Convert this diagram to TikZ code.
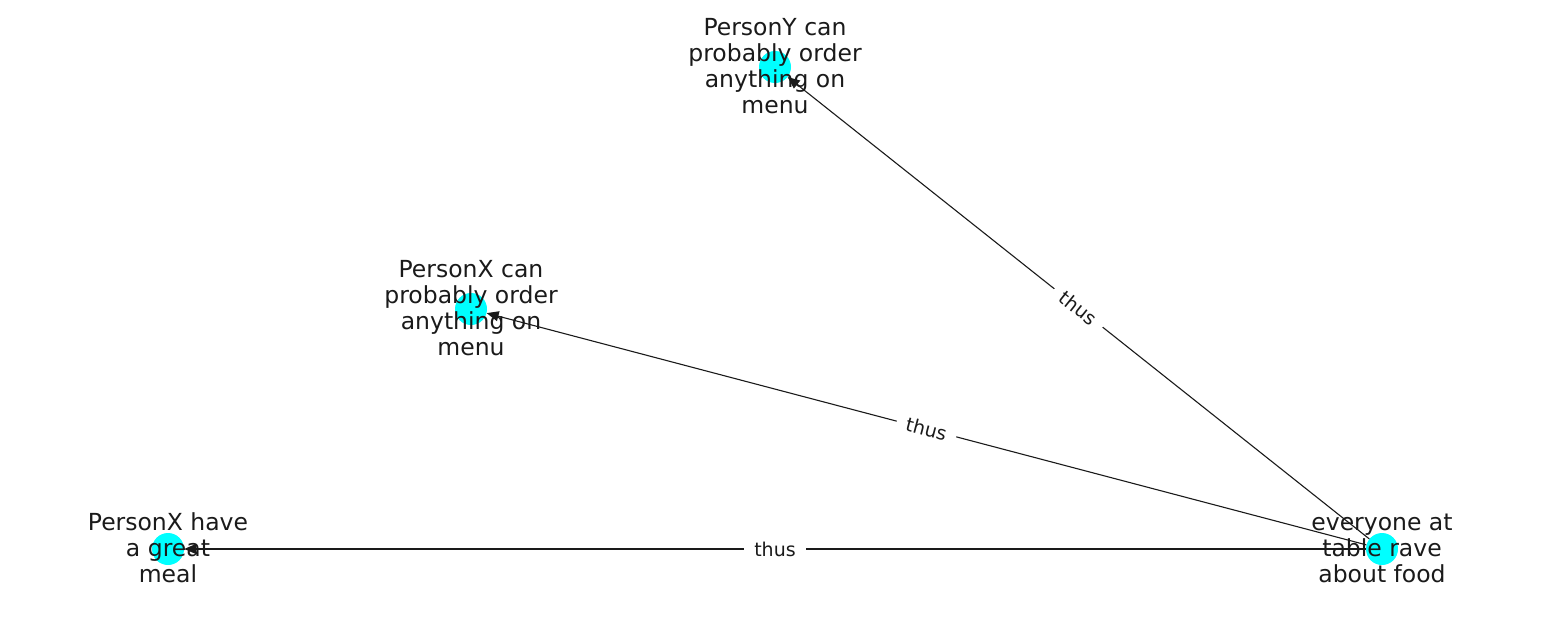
\documentclass[tikz,border=0pt]{standalone}
\usepackage{fontspec}
\setmainfont{DejaVu Sans}
\usetikzlibrary{arrows.meta}
\definecolor{nodecyan}{RGB}{0,255,255}
\definecolor{txt}{RGB}{26,26,26}
\begin{document}
\begin{tikzpicture}[x=1pt,y=-1pt,
  vertex/.style={circle,fill=nodecyan,minimum size=32pt,inner sep=0pt},
  lbl/.style={align=center,font=\fontsize{23.5}{26}\selectfont,text=txt,inner sep=0pt},
  edge/.style={draw=txt,line width=1.1pt,-{Triangle[length=12pt,width=10pt]}},
  elbl/.style={font=\fontsize{19}{21}\selectfont,fill=white,sloped,inner xsep=10pt,inner ysep=4pt,text=txt}]
\useasboundingbox (0,0) rectangle (1550,616);
\node[vertex] (y) at (775,67) {};
\node[vertex] (xc) at (471,309) {};
\node[vertex] (xh) at (168,549) {};
\node[vertex] (e) at (1382,549) {};
\draw[edge] (e) -- node[elbl] {thus} (y);
\draw[edge] (e) -- node[elbl] {thus} (xc);
\draw[edge] (e) -- node[elbl] {thus} (xh);
\node[lbl] (ty) at (775,66) {PersonY can\\probably order\\anything on\\menu};
\node[lbl] (txc) at (471,308) {PersonX can\\probably order\\anything on\\menu};
\node[lbl] (txh) at (168,548) {PersonX have\\a great\\meal};
\node[lbl] (te) at (1382,548) {everyone at\\table rave\\about food};
\end{tikzpicture}
\end{document}
